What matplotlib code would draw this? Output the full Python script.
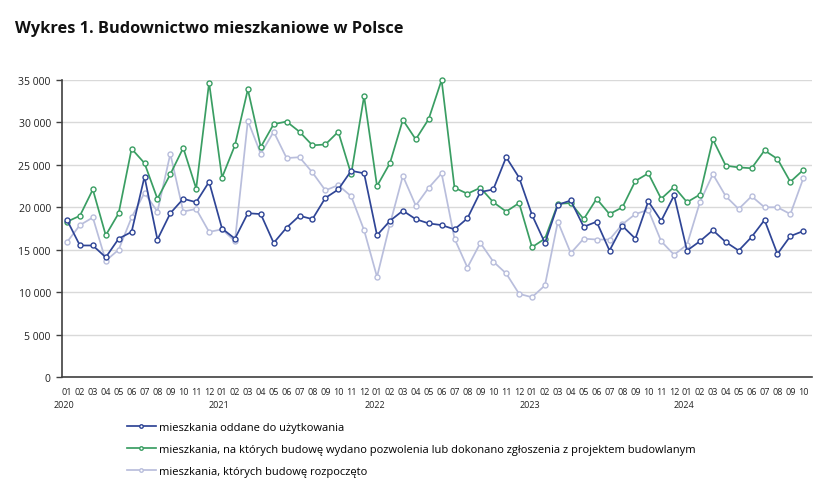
import numpy as np
import matplotlib
matplotlib.use("Agg")
from matplotlib import pyplot as plt
from matplotlib import transforms

plt.rcParams['font.family'] = ['Open Sans', 'DejaVu Sans']

# Dane miesięczne 01.2020 - 10.2024
years = ['2020', '2021', '2022', '2023', '2024']
months = ['01', '02', '03', '04', '05', '06', '07', '08', '09', '10', '11', '12']

oddane = [18500, 15500, 15500, 14100, 16300, 17100, 23600, 16200, 19300, 21000, 20600, 23000,
          17500, 16300, 19300, 19200, 15800, 17600, 19000, 18600, 21100, 22100, 24300, 24000,
          16700, 18400, 19600, 18600, 18100, 17900, 17400, 18700, 21800, 22100, 25900, 23500,
          19100, 15800, 20300, 20800, 17700, 18300, 14900, 17800, 16300, 20700, 18400, 21400,
          14900, 16000, 17300, 15900, 14900, 16500, 18500, 14500, 16600, 17200]

pozwolenia = [18300, 19000, 22100, 16700, 19300, 26900, 25200, 21000, 23900, 27000, 22200, 34700,
              23500, 27300, 33900, 27100, 29800, 30100, 28900, 27300, 27400, 28900, 23900, 33100,
              22500, 25200, 30300, 28000, 30400, 35000, 22300, 21600, 22300, 20600, 19500, 20500,
              15300, 16300, 20400, 20500, 18600, 21000, 19200, 20000, 23100, 24000, 21000, 22400,
              20600, 21500, 28000, 24900, 24700, 24600, 26700, 25700, 23000, 24400]

rozpoczete = [15900, 17900, 18800, 13700, 15000, 18800, 21700, 19500, 26300, 19500, 19800, 17100,
              17400, 16000, 30200, 26300, 28900, 25800, 25900, 24100, 22000, 22600, 21300, 17300,
              11800, 18000, 23700, 20200, 22300, 24000, 16300, 12900, 15800, 13600, 12200, 9800,
              9400, 10800, 18300, 14600, 16300, 16200, 16200, 18000, 19200, 19700, 16000, 14400,
              15600, 20600, 23900, 21300, 19800, 21300, 20000, 20000, 19200, 23400]

labels = ['mieszkania oddane do użytkowania',
          'mieszkania, na których budowę wydano pozwolenia lub dokonano zgłoszenia z projektem budowlanym',
          'mieszkania, których budowę rozpoczęto']
colors = ['#2F4596', '#3A9E63', '#B9BEDC']

n = len(oddane)
x = np.arange(n)
month_labels = [months[i % 12] for i in range(n)]

fig = plt.figure(figsize=(8.34, 4.85), dpi=100)
ax = fig.add_axes([0.0743, 0.2206, 0.8997, 0.6124])

# kolejność rysowania: jasna seria pod spodem
for series, color, lab, z in [(rozpoczete, colors[2], labels[2], 2),
                              (pozwolenia, colors[1], labels[1], 3),
                              (oddane, colors[0], labels[0], 4)]:
    ax.plot(x, series, color=color, lw=1.25, marker='o', ms=3.6, mfc='white',
            mec=color, mew=1.0, label=lab, zorder=z, clip_on=False)

ax.set_xlim(-0.39, n - 1 + 0.7)
ax.set_ylim(0, 35000)
ax.set_yticks(np.arange(0, 35001, 5000))
ax.set_yticklabels([f'{v:,}'.replace(',', ' ') for v in range(0, 35001, 5000)])
ax.yaxis.grid(True, color='#D9D9D9', lw=1.0)
ax.set_axisbelow(True)

for s in ['top', 'right']:
    ax.spines[s].set_visible(False)
for s in ['left', 'bottom']:
    ax.spines[s].set_color('#404040')
    ax.spines[s].set_linewidth(1.2)

ax.tick_params(axis='y', length=4, width=1, color='#404040', labelsize=7.5,
               labelcolor='#222222', pad=4)
ax.set_xticks(x)
ax.set_xticklabels(month_labels)
ax.tick_params(axis='x', length=0, labelsize=6.5, labelcolor='#222222', pad=7)

# etykiety lat pod styczniem
trans = transforms.blended_transform_factory(ax.transData, ax.transAxes)
for i, yr in enumerate(years):
    ax.text(12 * i - 0.2, -0.077, yr, transform=trans, ha='center', va='top',
            fontsize=6.5, color='#222222')

fig.text(0.018, 0.94, 'Wykres 1. Budownictwo mieszkaniowe w Polsce', fontsize=11.8,
         fontweight='bold', color='#111111', va='center', ha='left')

handles, labs = ax.get_legend_handles_labels()
order = [2, 1, 0]
fig.legend([handles[i] for i in order], [labs[i] for i in order],
           loc='upper left', bbox_to_anchor=(0.152, 0.128), frameon=False,
           fontsize=8, handlelength=2.6, handletextpad=0.3, labelspacing=1.0,
           borderaxespad=0, borderpad=0, markerscale=0.7)

fig.savefig('out.png', dpi=100, facecolor='white')
